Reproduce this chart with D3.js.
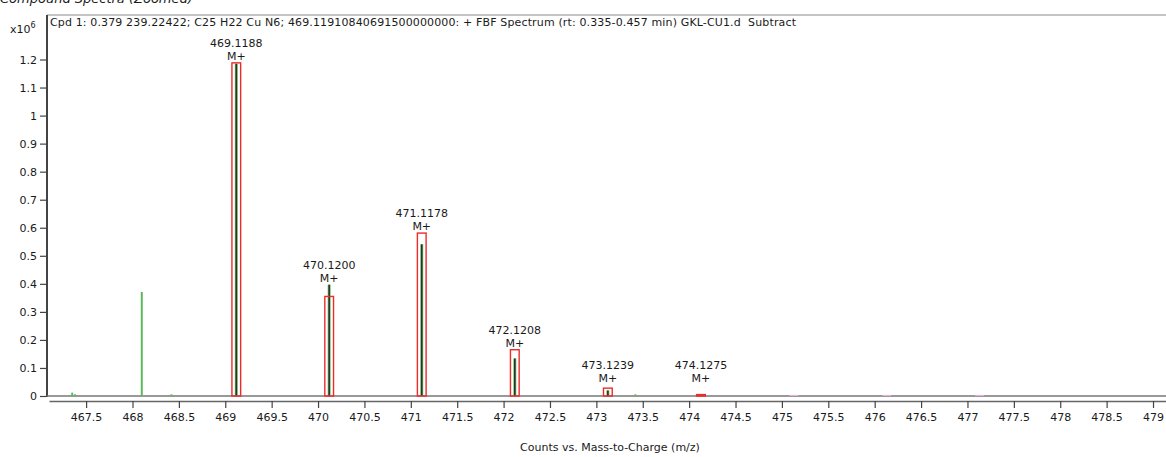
<!DOCTYPE html>
<html>
<head>
<meta charset="utf-8">
<script src="https://cdn.jsdelivr.net/npm/d3@7"></script>
<style>
  html, body { margin: 0; padding: 0; background: #fff; }
  svg { display: block; font-family: "DejaVu Sans", Verdana, sans-serif; }
</style>
</head>
<body>
<svg id="chart" width="1166" height="457"></svg>
<script>
// Isotope peaks of the compound (m/z, observed abundance x10^6)
const peakMz = [469.1188, 470.1200, 471.1178, 472.1208, 473.1239, 474.1275];
const peakObserved = [1.185, 0.397, 0.541, 0.134, 0.020, 0.004];
// Predicted isotope pattern (red boxes)
const peakPredicted = [1.188, 0.355, 0.581, 0.165, 0.028, 0.005];
const peakLabels = ["469.1188", "470.1200", "471.1178", "472.1208", "473.1239", "474.1275"];
const peakIon = "M+";

// Other spectrum lines (green)
const otherMz = [467.35, 467.38, 468.10, 468.42, 469.02, 473.42, 474.42, 475.33, 476.32, 477.32];
const otherValues = [0.012, 0.006, 0.371, 0.006, 0.002, 0.006, 0.003, 0.002, 0.002, 0.002];

// Small unmatched predicted peaks (violet)
const extraMz = [475.13, 476.13, 477.13];
const extraValues = [0.004, 0.004, 0.004];

// Axis ticks
const xTicks = d3.range(467.5, 479.01, 0.5);
const yTicks = [0, 0.1, 0.2, 0.3, 0.4, 0.5, 0.6, 0.7, 0.8, 0.9, 1, 1.1, 1.2];

const titleText = "Cpd 1: 0.379 239.22422; C25 H22 Cu N6; 469.11910840691500000000: + FBF Spectrum (rt: 0.335-0.457 min) GKL-CU1.d  Subtract";
const panelText = "Compound Spectra (Zoomed)";
const xTitle = "Counts vs. Mass-to-Charge (m/z)";

const svg = d3.select("#chart");
const W = 1166;
const plotLeft = 47, plotTop = 15, plotBottom = 396, axisY = 401;

const x = d3.scaleLinear().domain([467.1, 479.14]).range([49, W]);
const y = d3.scaleLinear().domain([0, 1.2]).range([plotBottom, 59.5]);

const textColor = "#1a1a1a";

// Panel caption (partly cut off at the top)
svg.append("text")
  .attr("x", 0).attr("y", 3)
  .attr("font-size", 13).attr("font-style", "italic")
  .attr("fill", textColor)
  .text(panelText);

// Frame: top and left border
svg.append("line").attr("x1", plotLeft).attr("x2", W).attr("y1", plotTop).attr("y2", plotTop)
  .attr("stroke", "#8a8a8a").attr("stroke-width", 1);
svg.append("line").attr("x1", plotLeft).attr("x2", plotLeft).attr("y1", plotTop).attr("y2", plotBottom + 1)
  .attr("stroke", "#444").attr("stroke-width", 2);

// Spectrum title
svg.append("text")
  .attr("x", 50).attr("y", 26)
  .attr("font-size", 11).attr("fill", textColor)
  .attr("xml:space", "preserve")
  .style("white-space", "pre")
  .attr("textLength", 746).attr("lengthAdjust", "spacing")
  .text(titleText);

// Scale multiplier
const mult = svg.append("text").attr("x", 10).attr("y", 33).attr("font-size", 11).attr("fill", textColor);
mult.append("tspan").text("x10");
mult.append("tspan").attr("dy", -5).attr("font-size", 8).text("6");

// Y axis
const yAxis = d3.axisLeft(y)
  .tickValues(yTicks)
  .tickSize(6)
  .tickPadding(3)
  .tickFormat(d => String(+d.toFixed(1)));
const gy = svg.append("g").attr("transform", `translate(${plotLeft - 1},0)`).call(yAxis);
gy.select(".domain").remove();
gy.selectAll(".tick line").attr("stroke", "#444").attr("stroke-width", 1.2);
gy.selectAll(".tick text").attr("font-size", 11).attr("fill", textColor)
  .attr("font-family", "DejaVu Sans, Verdana, sans-serif");

// Baseline of the spectrum
svg.append("line").attr("x1", plotLeft).attr("x2", W).attr("y1", plotBottom).attr("y2", plotBottom)
  .attr("stroke", "#777").attr("stroke-width", 1.5);

// X axis
const xAxis = d3.axisBottom(x)
  .tickValues(xTicks)
  .tickSize(7)
  .tickSizeOuter(0)
  .tickPadding(5)
  .tickFormat(d => String(+d.toFixed(1)));
const gx = svg.append("g").attr("transform", `translate(0,${axisY})`).call(xAxis);
gx.select(".domain").attr("stroke", "#666").attr("stroke-width", 1.5);
gx.selectAll(".tick line").attr("stroke", "#444").attr("stroke-width", 1.2);
gx.selectAll(".tick text").attr("font-size", 11).attr("fill", textColor)
  .attr("font-family", "DejaVu Sans, Verdana, sans-serif");

svg.append("text")
  .attr("x", 610).attr("y", 451)
  .attr("text-anchor", "middle")
  .attr("font-size", 11).attr("fill", textColor)
  .text(xTitle);

// Other spectrum lines
svg.append("g").selectAll("line")
  .data(otherMz.map((m, i) => ({ m, v: otherValues[i] })))
  .join("line")
  .attr("x1", d => x(d.m)).attr("x2", d => x(d.m))
  .attr("y1", plotBottom).attr("y2", d => y(d.v))
  .attr("stroke", "#5cb85c").attr("stroke-width", 2);

// Small violet predicted marks
const boxHalf = 0.047;
svg.append("g").selectAll("rect")
  .data(extraMz.map((m, i) => ({ m, v: extraValues[i] })))
  .join("rect")
  .attr("x", d => x(d.m - boxHalf)).attr("width", d => x(d.m + boxHalf) - x(d.m - boxHalf))
  .attr("y", d => y(d.v)).attr("height", d => plotBottom - y(d.v))
  .attr("fill", "#e3b3e3");

const peaks = peakMz.map((m, i) => ({ m, obs: peakObserved[i], pred: peakPredicted[i], label: peakLabels[i] }));

// Observed isotope lines: green halo with dark core
const gp = svg.append("g");
gp.selectAll("line.halo").data(peaks).join("line").attr("class", "halo")
  .attr("x1", d => x(d.m)).attr("x2", d => x(d.m))
  .attr("y1", plotBottom).attr("y2", d => y(d.obs))
  .attr("stroke", "#6fbf6f").attr("stroke-width", 3);
gp.selectAll("line.core").data(peaks).join("line").attr("class", "core")
  .attr("x1", d => x(d.m)).attr("x2", d => x(d.m))
  .attr("y1", plotBottom).attr("y2", d => y(d.obs))
  .attr("stroke", "#2a352a").attr("stroke-width", 1.6);

// Predicted isotope boxes
gp.selectAll("rect").data(peaks).join("rect")
  .attr("x", d => x(d.m - boxHalf)).attr("width", d => x(d.m + boxHalf) - x(d.m - boxHalf))
  .attr("y", d => y(d.pred)).attr("height", d => plotBottom - y(d.pred))
  .attr("fill", "none").attr("stroke", "#ee2a2a").attr("stroke-width", 1.4);

// Peak labels
const labelBase = d => Math.min(Math.min(y(d.obs), y(d.pred)) - 3, plotBottom - 14);
gp.selectAll("text.mz").data(peaks).join("text").attr("class", "mz")
  .attr("x", d => x(d.m)).attr("y", d => labelBase(d) - 13)
  .attr("text-anchor", "middle").attr("font-size", 11).attr("fill", textColor)
  .text(d => d.label);
gp.selectAll("text.ion").data(peaks).join("text").attr("class", "ion")
  .attr("x", d => x(d.m)).attr("y", d => labelBase(d))
  .attr("text-anchor", "middle").attr("font-size", 11).attr("fill", textColor)
  .text(peakIon);
</script>
</body>
</html>
